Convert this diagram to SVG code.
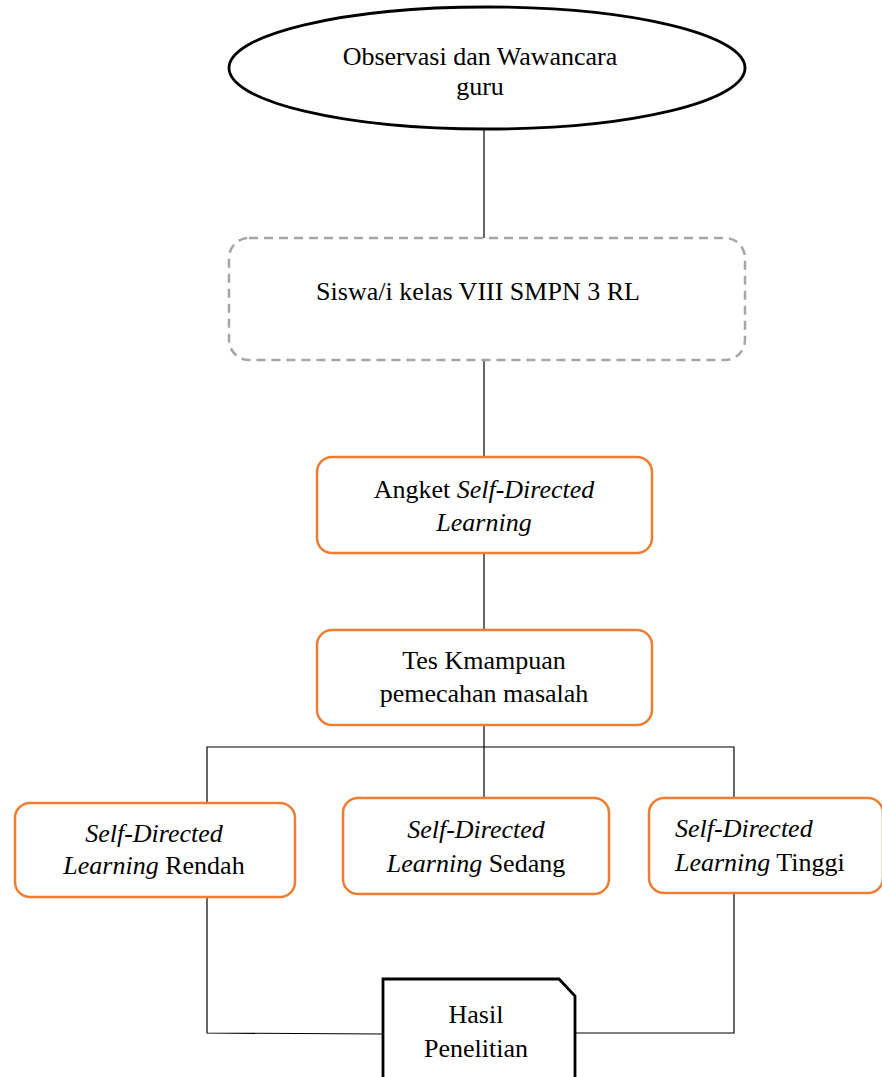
<svg xmlns="http://www.w3.org/2000/svg" width="882" height="1077" viewBox="0 0 882 1077">
<style>
text{font-family:"Liberation Serif","Times New Roman",serif;font-size:26px;fill:#000}
.c{text-anchor:middle}
.i{font-style:italic}
.or{fill:#fff;stroke:#ED7D31;stroke-width:2.5}
.cn{fill:none;stroke:#000;stroke-width:1.2}
</style>
<rect width="882" height="1077" fill="#fff"/>
<g id="connectors">
<line class="cn" x1="484" y1="129" x2="484" y2="238"/>
<line class="cn" x1="484" y1="360" x2="484" y2="457"/>
<line class="cn" x1="484" y1="553" x2="484" y2="630"/>
<line class="cn" x1="484" y1="725" x2="484" y2="798"/>
<polyline class="cn" points="207,803 207,747 734,747 734,798"/>
<polyline class="cn" points="207,897 207,1033 383,1034"/>
<polyline class="cn" points="734,893 734,1033 575,1033"/>
</g>
<g id="n1">
<ellipse cx="487" cy="68" rx="258" ry="61" fill="#fff" stroke="#000" stroke-width="2.8"/>
<text class="c" x="480" y="65">Observasi dan Wawancara</text>
<text class="c" x="480" y="95">guru</text>
</g>
<g id="n2">
<rect x="229" y="238" width="516" height="122" rx="20" fill="#fff" stroke="#A6A6A6" stroke-width="2.5" stroke-dasharray="9,6"/>
<text class="c" x="478" y="300">Siswa/i kelas VIII SMPN 3 RL</text>
</g>
<g id="n3">
<rect class="or" x="317" y="457" width="335" height="96" rx="15"/>
<text class="c" x="484" y="498">Angket <tspan class="i">Self-Directed</tspan></text>
<text class="c i" x="484" y="531">Learning</text>
</g>
<g id="n4">
<rect class="or" x="317" y="630" width="335" height="95" rx="15"/>
<text class="c" x="484" y="669">Tes Kmampuan</text>
<text class="c" x="484" y="702">pemecahan masalah</text>
</g>
<g id="n5">
<rect class="or" x="15" y="803" width="280" height="94" rx="15"/>
<text class="c i" x="154" y="842">Self-Directed</text>
<text class="c" x="154" y="874"><tspan class="i">Learning</tspan>  Rendah</text>
</g>
<g id="n6">
<rect class="or" x="343" y="798" width="266" height="96" rx="15"/>
<text class="c i" x="476" y="838">Self-Directed</text>
<text class="c" x="476" y="872"><tspan class="i">Learning</tspan> Sedang</text>
</g>
<g id="n7">
<rect class="or" x="649" y="798" width="234" height="95" rx="15"/>
<text class="i" x="675" y="837">Self-Directed</text>
<text x="675" y="871"><tspan class="i">Learning</tspan> Tinggi</text>
</g>
<g id="n8">
<path d="M383,1090 L383,979 L559,979 L575,996 L575,1090" fill="#fff" stroke="#000" stroke-width="2.8"/>
<text class="c" x="476" y="1023">Hasil</text>
<text class="c" x="476" y="1057">Penelitian</text>
</g>
</svg>
